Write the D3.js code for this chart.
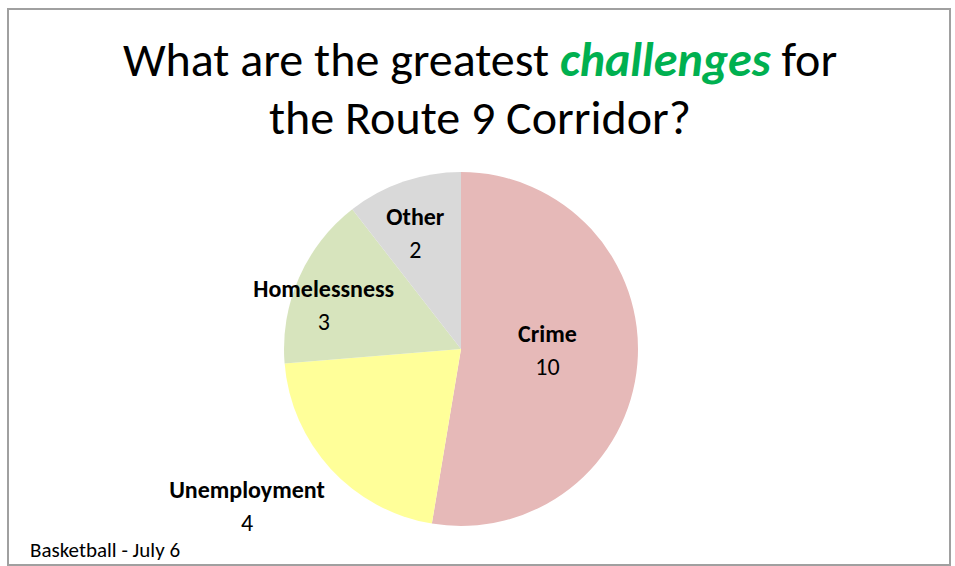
<!DOCTYPE html>
<meta charset="utf-8">
<style>
body { margin: 0; background: #fff; }
text { font-family: Carlito, Lato, "Open Sans", sans-serif; }
</style>
<svg width="955" height="566"></svg>
<script src="https://cdn.jsdelivr.net/npm/d3@7"></script>
<script>

// data
var categories = ["Crime", "Unemployment", "Homelessness", "Other"];
var counts = [10, 4, 3, 2];
var colors = ["#e6b9b8", "#ffff99", "#d7e4bd", "#d9d9d9"];
// label placement: share of radius, plus a small pixel nudge (Excel best fit)
var labelRadius = [0.49, 1.49, 0.81, 0.69];
var labelNudge = [[0, -6], [-20, -22], [-6, 14], [-6, 0]];

var svg = d3.select("svg");
var cx = 461, cy = 349, r = 177;

// frame
svg.append("rect")
    .attr("x", 8).attr("y", 9)
    .attr("width", 942).attr("height", 556)
    .attr("fill", "#fff")
    .attr("stroke", "#a0a0a0")
    .attr("stroke-width", 2);

// title
var title = svg.append("text")
    .attr("text-anchor", "middle")
    .attr("font-size", 48);
var l1 = title.append("tspan").attr("x", 480).attr("y", 76);
l1.append("tspan").text("What are the greatest ");
l1.append("tspan").attr("fill", "#00b050").attr("font-weight", "bold")
    .attr("font-style", "italic").text("challenges");
l1.append("tspan").text(" for");
title.append("tspan").attr("x", 480).attr("y", 134).text("the Route 9 Corridor?");

var data = categories.map(function(c, i) { return {name: c, value: counts[i], i: i}; });

var pie = d3.pie().sort(null).value(function(d) { return d.value; });
var arc = d3.arc().innerRadius(0).outerRadius(r);

var g = svg.append("g").attr("transform", "translate(" + cx + "," + cy + ")");

var arcs = pie(data);

g.selectAll("path")
    .data(arcs)
    .enter().append("path")
    .attr("d", arc)
    .attr("fill", function(d) { return colors[d.data.i]; });

var lab = g.selectAll("g.lab")
    .data(arcs)
    .enter().append("g")
    .attr("class", "lab")
    .attr("transform", function(d) {
      var lr = r * labelRadius[d.data.i];
      var c = d3.arc().innerRadius(lr).outerRadius(lr).centroid(d);
      var n = labelNudge[d.data.i];
      return "translate(" + (c[0] + n[0]) + "," + (c[1] + n[1]) + ")";
    });

lab.append("text")
    .attr("text-anchor", "middle")
    .attr("y", -8)
    .attr("font-size", 24)
    .attr("font-weight", "bold")
    .text(function(d) { return d.data.name; });

lab.append("text")
    .attr("text-anchor", "middle")
    .attr("y", 25)
    .attr("font-size", 24)
    .text(function(d) { return d.data.value; });

svg.append("text")
    .attr("x", 30).attr("y", 557)
    .attr("font-size", 21)
    .text("Basketball - July 6");

</script>
